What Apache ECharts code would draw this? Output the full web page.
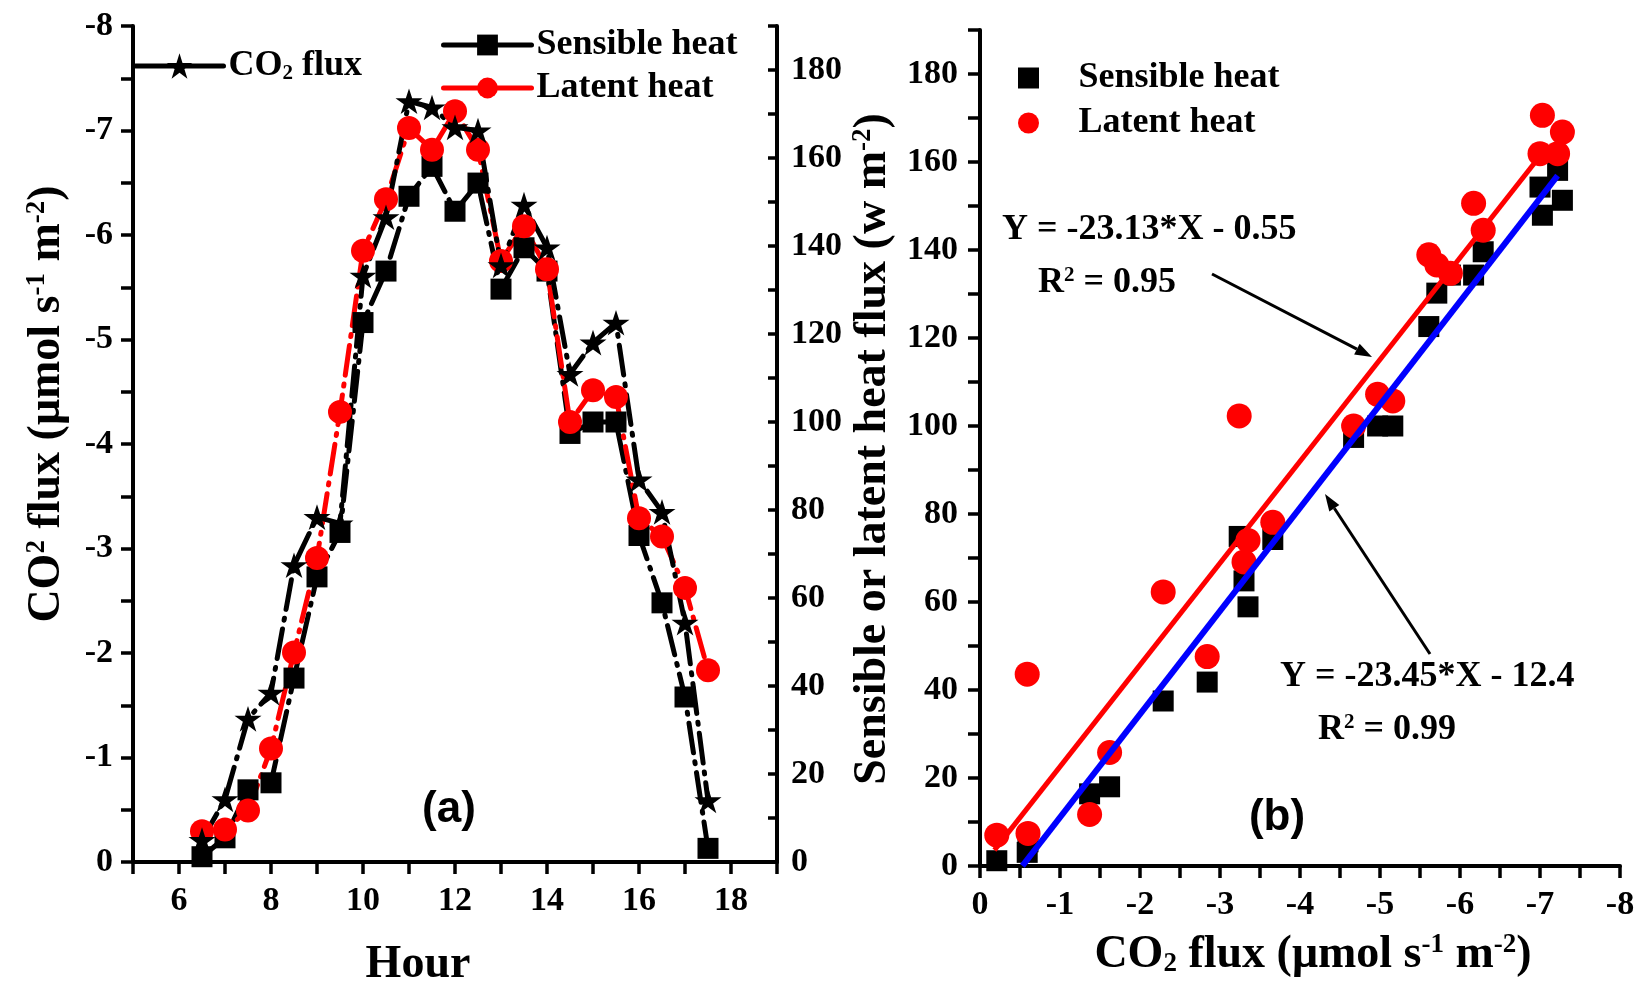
<!DOCTYPE html>
<html><head><meta charset="utf-8">
<script src="https://cdn.jsdelivr.net/npm/echarts@6/dist/echarts.min.js"></script>
<style>html,body{margin:0;padding:0;background:#fff}#c{width:1639px;height:987px}</style>
</head><body><div id="c"></div>
<script>
// ---------- data ----------
const hours = [6.5, 7, 7.5, 8, 8.5, 9, 9.5, 10, 10.5, 11, 11.5, 12, 12.5, 13, 13.5, 14, 14.5, 15, 15.5, 16, 16.5, 17, 17.5];
const co2Flux = [-0.21, -0.60, -1.37, -1.62, -2.84, -3.30, -3.24, -5.61, -6.17, -7.28, -7.22, -7.03, -7.00, -5.71, -6.29, -5.88, -4.67, -4.97, -5.16, -3.66, -3.35, -2.29, -0.59];
const sensibleHeat = [1.2, 5.5, 16.4, 18.0, 41.8, 64.8, 74.9, 122.6, 134.3, 151.3, 158.1, 147.9, 154.3, 130.2, 139.6, 134.3, 97.4, 100.0, 100.0, 74.2, 58.9, 37.5, 3.1];
const latentHeat = [7.0, 7.4, 11.7, 25.8, 47.6, 69.1, 102.3, 138.9, 150.6, 166.8, 161.9, 170.6, 161.9, 136.6, 144.5, 134.7, 100.0, 107.2, 105.7, 78.1, 74.0, 62.3, 43.6];
// regression fits shown on panel (b): slope, intercept, x extent of drawn line
const fitLatent = { slope: -23.13, intercept: -0.55, xRange: [-0.18, -7.0] };
const fitSensible = { slope: -23.45, intercept: -12.4, xRange: [-0.53, -7.22] };

// ---------- styles ----------
const SERIF = "'Liberation Serif','Times New Roman',serif";
const SANS = "'Liberation Sans',Arial,sans-serif";
const STAR = 'path://M100,0L122.45,69.1L195.1,69.1L136.33,111.8L158.8,180.9L100,138.2L41.2,180.9L63.67,111.8L4.9,69.1L77.55,69.1Z';
const SQUARE = 'path://M0,0L10,0L10,10L0,10Z';
const RED = '#ff0000', BLACK = '#000000', BLUE = '#0000ff';
const lab = { fontFamily: SERIF, fontWeight: 'bold', fontSize: 34, color: BLACK };
const axLine = { show: true, onZero: false, lineStyle: { color: BLACK, width: 4 } };
const tick = (len, inside) => ({ show: true, inside: !!inside, length: len, lineStyle: { color: BLACK, width: 3.5 } });

const supStyle = (fs) => ({ fontFamily: SERIF, fontWeight: 'bold', fontSize: fs, verticalAlign: 'top', fill: BLACK, color: BLACK });
const subStyle = (fs) => ({ fontFamily: SERIF, fontWeight: 'bold', fontSize: fs, verticalAlign: 'bottom', fill: BLACK, color: BLACK });

function txt(x, y, text, opts) {
  opts = opts || {};
  const fs = opts.fontSize || 46;
  return {
    type: 'text', x: x, y: y, rotation: opts.rotation || 0, z: 100,
    style: {
      text: text, fontFamily: opts.family || SERIF, fontWeight: 'bold', fontSize: fs, fill: BLACK,
      align: opts.align || 'center', textAlign: opts.align || 'center',
      verticalAlign: 'middle', textVerticalAlign: 'middle',
      rich: { sup: supStyle(Math.round(fs * 0.58)), sub: subStyle(Math.round(fs * 0.58)) }
    }
  };
}
function arrow(x1, y1, x2, y2) {
  const a = Math.atan2(y2 - y1, x2 - x1), L = 17, W = 6;
  const bx = x2 - L * Math.cos(a), by = y2 - L * Math.sin(a);
  return [
    { type: 'line', z: 100, shape: { x1: x1, y1: y1, x2: bx, y2: by }, style: { stroke: BLACK, lineWidth: 3 } },
    { type: 'polygon', z: 100, shape: { points: [[x2, y2], [bx + W * Math.sin(a), by - W * Math.cos(a)], [bx - W * Math.sin(a), by + W * Math.cos(a)]] }, style: { fill: BLACK } }
  ];
}
const fitLine = (f) => f.xRange.map(x => [x, f.slope * x + f.intercept]);
const dash = { width: 5, type: [30, 9, 2, 9], cap: 'round' };
const legendText = { fontFamily: SERIF, fontWeight: 'bold', fontSize: 36, color: BLACK };

const chart = echarts.init(document.getElementById('c'), null, { renderer: 'canvas' });
chart.setOption({
  animation: false,
  backgroundColor: '#fff',
  grid: [
    { left: 133, top: 26, width: 644, height: 836 },
    { left: 980, top: 30, width: 640, height: 836 }
  ],
  xAxis: [
    { gridIndex: 0, type: 'value', min: 5, max: 19, interval: 1, position: 'bottom',
      axisLine: axLine, axisTick: tick(12), splitLine: { show: false },
      axisLabel: Object.assign({}, lab, { margin: 22, formatter: v => (v % 2 === 0 ? String(v) : '') }) },
    { gridIndex: 1, type: 'value', min: -8, max: 0, interval: 0.5, inverse: true, position: 'bottom',
      axisLine: axLine, axisTick: tick(12), splitLine: { show: false },
      axisLabel: Object.assign({}, lab, { margin: 22, formatter: v => (Number.isInteger(v) ? String(v === 0 ? 0 : v) : '') }) }
  ],
  yAxis: [
    { gridIndex: 0, type: 'value', min: -8, max: 0, interval: 0.5, inverse: true, position: 'left',
      axisLine: axLine, axisTick: tick(12), splitLine: { show: false },
      axisLabel: Object.assign({}, lab, { margin: 20, formatter: v => (Number.isInteger(v) ? String(v === 0 ? 0 : v) : '') }) },
    { gridIndex: 0, type: 'value', min: 0, max: 190, interval: 10, position: 'right',
      axisLine: axLine, axisTick: tick(9, true), splitLine: { show: false },
      axisLabel: Object.assign({}, lab, { margin: 14, formatter: v => (v % 20 === 0 ? String(v) : '') }) },
    { gridIndex: 1, type: 'value', min: 0, max: 190, interval: 10, position: 'left',
      axisLine: axLine, axisTick: tick(12), splitLine: { show: false },
      axisLabel: Object.assign({}, lab, { margin: 22, formatter: v => (v % 20 === 0 ? String(v) : '') }) }
  ],
  legend: [
    { data: ['CO2 flux'], left: 128, top: 43, itemWidth: 88, itemHeight: 32, selectedMode: false,
      lineStyle: { type: 'solid', width: 5 },
      formatter: () => 'CO{sub|2} flux',
      textStyle: Object.assign({}, legendText, {
        rich: { sub: { fontFamily: SERIF, fontWeight: 'bold', fontSize: 21, color: BLACK, verticalAlign: 'bottom' } } }) },
    { data: ['Sensible heat', 'Latent heat'], orient: 'vertical', left: 436, top: 22, itemWidth: 88, itemHeight: 26, itemGap: 7,
      selectedMode: false, lineStyle: { type: 'solid', width: 5 }, textStyle: legendText },
    { data: [{ name: 'Sensible heat (b)', icon: SQUARE }, { name: 'Latent heat (b)', icon: 'circle' }],
      orient: 'vertical', left: 1013, top: 55, itemWidth: 90, itemHeight: 21, itemGap: 9, selectedMode: false,
      itemStyle: { opacity: 1 },
      formatter: n => n.replace(' (b)', ''), textStyle: legendText }
  ],
  series: [
    { name: 'Sensible heat', type: 'line', xAxisIndex: 0, yAxisIndex: 1,
      data: hours.map((h, i) => [h, sensibleHeat[i]]),
      symbol: 'rect', symbolSize: 21, itemStyle: { color: BLACK }, lineStyle: Object.assign({ color: BLACK }, dash) },
    { name: 'Latent heat', type: 'line', xAxisIndex: 0, yAxisIndex: 1,
      data: hours.map((h, i) => [h, latentHeat[i]]),
      symbol: 'circle', symbolSize: 24, itemStyle: { color: RED }, lineStyle: Object.assign({ color: RED }, dash) },
    { name: 'CO2 flux', type: 'line', xAxisIndex: 0, yAxisIndex: 0,
      data: hours.map((h, i) => [h, co2Flux[i]]),
      symbol: STAR, symbolSize: 27, symbolKeepAspect: true, itemStyle: { color: BLACK }, lineStyle: Object.assign({ color: BLACK }, dash) },
    { name: 'Sensible heat (b)', type: 'scatter', xAxisIndex: 1, yAxisIndex: 2,
      data: co2Flux.map((c, i) => [c, sensibleHeat[i]]),
      symbol: 'rect', symbolSize: 21, itemStyle: { color: BLACK, opacity: 1 } },
    { name: 'Latent heat (b)', type: 'scatter', xAxisIndex: 1, yAxisIndex: 2,
      data: co2Flux.map((c, i) => [c, latentHeat[i]]),
      symbol: 'circle', symbolSize: 25, itemStyle: { color: RED, opacity: 1 } },
    { name: 'fitLatent', type: 'line', xAxisIndex: 1, yAxisIndex: 2, data: fitLine(fitLatent),
      symbol: 'none', lineStyle: { color: RED, width: 5 } },
    { name: 'fitSensible', type: 'line', xAxisIndex: 1, yAxisIndex: 2, data: fitLine(fitSensible),
      symbol: 'none', lineStyle: { color: BLUE, width: 6 } }
  ],
  graphic: [
    txt(47, 404, 'CO{sup|2} flux (μmol s{sup|-1} m{sup|-2})', { rotation: Math.PI / 2 }),
    txt(873, 449, 'Sensible or latent heat flux (w m{sup|-2})', { rotation: Math.PI / 2 }),
    txt(418, 965, 'Hour'),
    txt(1313, 955, 'CO{sub|2} flux (μmol s{sup|-1} m{sup|-2})'),
    txt(449, 810, '(a)', { family: SANS, fontSize: 44 }),
    txt(1277, 818, '(b)', { family: SANS, fontSize: 44 }),
    txt(1002, 230, 'Y = -23.13*X - 0.55', { fontSize: 36, align: 'left' }),
    txt(1038, 283, 'R{sup|2} = 0.95', { fontSize: 36, align: 'left' }),
    txt(1280, 677, 'Y = -23.45*X - 12.4', { fontSize: 36, align: 'left' }),
    txt(1318, 730, 'R{sup|2} = 0.99', { fontSize: 36, align: 'left' })
  ].concat(arrow(1212, 274, 1372, 357), arrow(1430, 654, 1325, 494))
});
</script></body></html>
